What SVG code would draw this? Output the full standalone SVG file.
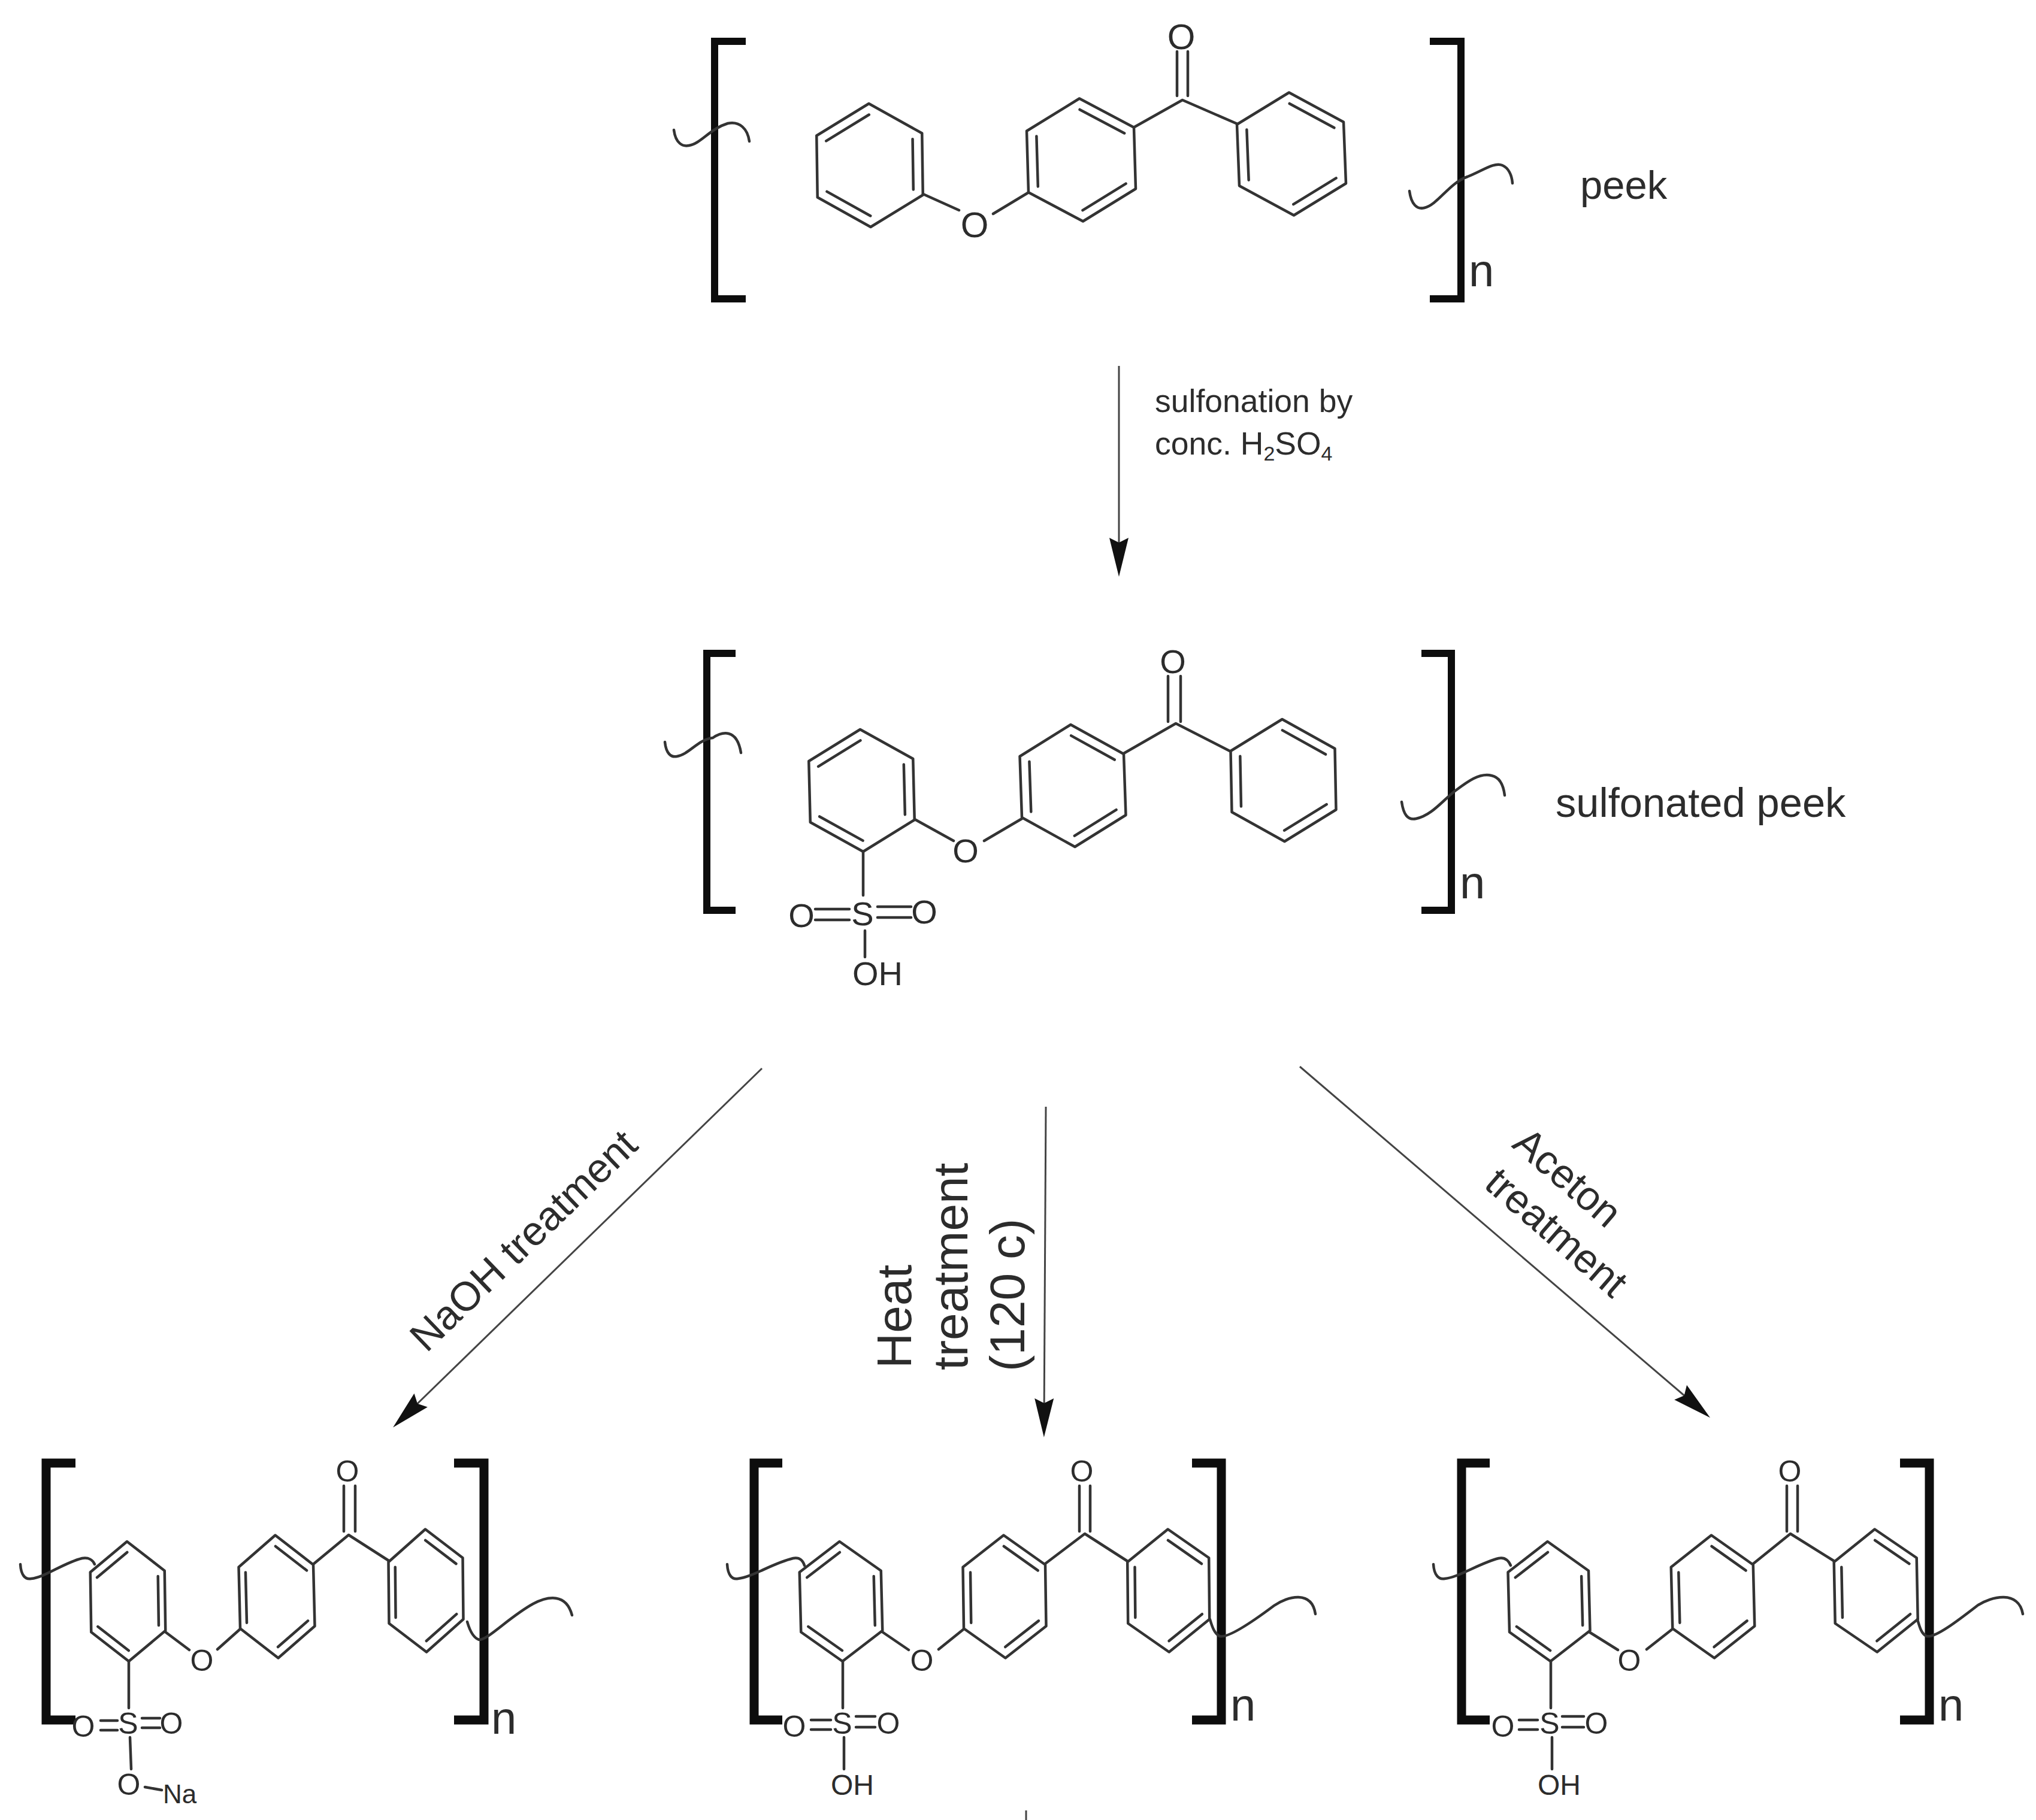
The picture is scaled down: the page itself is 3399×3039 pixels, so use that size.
<svg xmlns="http://www.w3.org/2000/svg" xmlns:xlink="http://www.w3.org/1999/xlink" width="3399" height="3039" viewBox="0 0 3399 3039">
<style>
text{font-family:"Liberation Sans",Arial,sans-serif;fill:#2c2c2c}
.b,.h,.q,.br,.c{fill:none;stroke-linecap:round}
.b,.h{stroke:#333;stroke-width:4.5;stroke-linejoin:round}
.h *{vector-effect:non-scaling-stroke}
.q{stroke:#333;stroke-width:4.5}
.br{stroke:#0d0d0d;stroke-width:12;stroke-linecap:butt;stroke-linejoin:miter}
.br2{stroke-width:15}
.c{stroke:#444;stroke-width:3;stroke-linecap:butt}
.f60{font-size:60px;text-anchor:middle}
.f56{font-size:56px;text-anchor:middle}
.f50{font-size:50px;text-anchor:middle}
.s56{font-size:56px}
.s48{font-size:48px}
.n{font-size:76px}
.l{font-size:67px}
.l2{font-size:68.6px}
.r{font-size:53.5px}
.t{font-size:68px}
.v{font-size:82px}
.sub{font-size:34px}
</style>
<defs>
<marker id="ah" viewBox="0 -20 70 40" refX="40" refY="0" markerWidth="70" markerHeight="40" markerUnits="userSpaceOnUse" orient="auto"><path d="M0,-16 L65,0 L0,16 L8,0 Z" fill="#111"/></marker>
<g id="ringA" class="h"><polygon points="0,-1 1,-.5 1,.5 0,1 -1,.5 -1,-.5"/><path d="M-.82,-.41 L0,-.82 M.82,-.41 L.82,.41 M-.82,.41 L0,.82"/></g>
<g id="ringB" class="h"><polygon points="0,-1 1,-.5 1,.5 0,1 -1,.5 -1,-.5"/><path d="M0,-.82 L.82,-.41 M-.82,-.41 L-.82,.41 M.82,.41 L0,.82"/></g>
</defs>
<rect width="3399" height="3039" fill="#fff"/>

<g id="peek">
<path class="br" d="M1245,69 H1193 V499 H1245"/>
<path class="br" d="M2387,69 H2439 V499 H2387"/>
<use href="#ringA" transform="matrix(88 -2 1.5 103 1452 276)"/>
<use href="#ringB" transform="matrix(89.5 -3 3 102.5 1805 267)"/>
<use href="#ringB" transform="matrix(89 -2 4 102.5 2156 257)"/>
<path class="b" d="M1541,324 L1601,351 M1658,357 L1716,322 M1894,212 L1974,167 L2066,207 M1965,86 V160 M1983,86 V160"/>
<path class="q" d="M1125,217 C1128,240 1140,245 1150,243 C1170,240 1185,215 1215,206 C1235,202 1248,215 1251,236"/>
<path class="q" d="M2353,319 C2356,342 2366,350 2378,347 C2400,342 2420,305 2450,295 C2475,285 2495,270 2508,276 C2518,280 2524,292 2525,306"/>
<text class="f60" x="1627" y="396">O</text>
<text class="f60" x="1972" y="82">O</text>
<text class="n" x="2452" y="478">n</text>
<text class="l" x="2638" y="332">peek</text>
</g>

<g id="sulfonated-peek">
<path class="br" d="M1228,1091 H1180 V1520 H1228"/>
<path class="br" d="M2373,1091 H2423 V1520 H2373"/>
<use href="#ringA" transform="matrix(87 -2 2.5 102 1438.5 1320)"/>
<use href="#ringB" transform="matrix(86.75 -2 3.5 102 1791 1312)"/>
<use href="#ringB" transform="matrix(87 -2 2 102 2142.5 1303)"/>
<path class="b" d="M1527,1368 L1592,1404 M1643,1404 L1706,1367 M1876,1258 L1963,1208 L2053,1254 M1950,1129 V1205 M1971,1129 V1205 M1441,1422 V1495 M1444,1554 V1598 M1361,1518 H1418 M1361,1536 H1418 M1465,1514 H1521 M1465,1532 H1521"/>
<path class="q" d="M1110,1239 C1112,1258 1120,1265 1130,1263 C1150,1260 1165,1235 1190,1232 C1205,1222 1230,1215 1237,1257"/>
<path class="q" d="M2340,1339 C2343,1360 2350,1370 2364,1367 C2390,1362 2410,1335 2430,1320 C2450,1305 2470,1290 2490,1295 C2505,1298 2510,1312 2512,1328"/>
<text class="f56" x="1612" y="1440">O</text>
<text class="f56" x="1958" y="1124">O</text>
<text class="f56" x="1440" y="1545">S</text>
<text class="f56" x="1338" y="1548">O</text>
<text class="f56" x="1543" y="1542">O</text>
<text class="s56" x="1423" y="1645">OH</text>
<text class="n" x="2437" y="1500">n</text>
<text class="l2" x="2597" y="1364">sulfonated peek</text>
</g>

<g id="sodium-salt">
<path class="br br2" d="M126,2443 H77 V2872 H126"/>
<path class="br br2" d="M758,2443 H808 V2872 H758"/>
<use href="#ringA" transform="matrix(62 -1.25 1.5 100 213.5 2674)"/>
<use href="#ringB" transform="matrix(62.25 -2 2.5 102.5 462 2666)"/>
<use href="#ringB" transform="matrix(62 -3.5 1 102.5 711 2656)"/>
<path class="b" d="M276,2725 L316,2755 M363,2754 L400,2721 M524,2611 L582,2563 L649,2606 M574,2481 V2557 M593,2481 V2557 M215,2774 V2852 M217,2901 L219,2954 M242,2984 L270,2989 M168,2873 H196 M168,2889 H196 M237,2869 H267 M237,2885 H267"/>
<path class="q" d="M34,2612 C35,2630 42,2638 52,2636 C75,2634 105,2610 137,2602 C148,2600 155,2605 158,2612"/>
<path class="q" d="M780,2708 C784,2722 790,2735 800,2738 C815,2738 850,2700 890,2678 C915,2665 945,2660 955,2697"/>
<text class="f50" x="337" y="2790">O</text>
<text class="f50" x="580" y="2474">O</text>
<text class="f50" x="214" y="2895">S</text>
<text class="f50" x="139" y="2900">O</text>
<text class="f50" x="286" y="2895">O</text>
<text class="f50" x="215" y="2997">O</text>
<text x="272" y="3011" style="font-size:44px">Na</text>
<text class="n" x="820" y="2895">n</text>
</g>

<g id="heat-product">
<path class="br br2" d="M1306,2443 H1259 V2872 H1306"/>
<path class="br br2" d="M1990,2443 H2039 V2872 H1990"/>
<use href="#ringA" transform="matrix(68 -1.25 2.5 100 1404 2674)"/>
<use href="#ringB" transform="matrix(68.75 -2 1.5 102.5 1677 2666)"/>
<use href="#ringB" transform="matrix(68 -3.5 1 102.5 1950.7 2656)"/>
<path class="b" d="M1473,2725 L1517,2755 M1567,2754 L1608,2721 M1745,2611 L1811,2561 L1881,2606 M1802,2481 V2557 M1820,2481 V2557 M1407,2774 V2852 M1409,2901 V2954 M1354,2872 H1387 M1354,2888 H1387 M1429,2866 H1461 M1429,2884 H1461"/>
<path class="q" d="M1214,2612 C1215,2630 1222,2638 1232,2636 C1255,2634 1290,2610 1324,2602 C1335,2600 1340,2605 1343,2614"/>
<path class="q" d="M2020,2704 C2024,2718 2028,2728 2036,2732 C2050,2736 2095,2705 2127,2681 C2150,2665 2190,2655 2196,2695"/>
<text class="f50" x="1539" y="2790">O</text>
<text class="f50" x="1806" y="2474">O</text>
<text class="f50" x="1406" y="2895">S</text>
<text class="f50" x="1326" y="2900">O</text>
<text class="f50" x="1483" y="2895">O</text>
<text class="s48" x="1387" y="2997">OH</text>
<text class="n" x="2054" y="2873">n</text>
<path class="c" d="M1713,3023 V3039"/>
</g>

<g id="aceton-product">
<path class="br br2" d="M2487,2443 H2440 V2872 H2487"/>
<path class="br br2" d="M3172,2443 H3221 V2872 H3172"/>
<use href="#ringA" transform="matrix(67.25 -1.25 2.5 100 2586 2674)"/>
<use href="#ringB" transform="matrix(68.5 -2 2.5 102.5 2859.5 2666)"/>
<use href="#ringB" transform="matrix(69 -3.5 2 102.5 3131.7 2656)"/>
<path class="b" d="M2653,2725 L2701,2755 M2749,2754 L2791,2721 M2927,2611 L2989,2561 L3061,2606 M2983,2481 V2557 M3001,2481 V2557 M2589,2774 V2852 M2591,2901 V2954 M2536,2872 H2567 M2536,2888 H2567 M2608,2866 H2644 M2608,2884 H2644"/>
<path class="q" d="M2393,2612 C2394,2630 2402,2638 2412,2636 C2435,2634 2470,2610 2502,2602 C2512,2600 2518,2605 2522,2614"/>
<path class="q" d="M3201,2704 C3205,2718 3208,2728 3216,2732 C3230,2736 3270,2705 3301,2681 C3325,2665 3370,2655 3377,2695"/>
<text class="f50" x="2720" y="2790">O</text>
<text class="f50" x="2988" y="2474">O</text>
<text class="f50" x="2587" y="2895">S</text>
<text class="f50" x="2509" y="2900">O</text>
<text class="f50" x="2665" y="2895">O</text>
<text class="s48" x="2567" y="2997">OH</text>
<text class="n" x="3236" y="2873">n</text>
</g>

<g id="connectors">
<line class="c" x1="1868" y1="611" x2="1868" y2="938" marker-end="url(#ah)"/>
<line class="c" x1="1272" y1="1784" x2="674" y2="2366" marker-end="url(#ah)"/>
<line class="c" x1="1746" y1="1848" x2="1743" y2="2375" marker-end="url(#ah)"/>
<line class="c" x1="2170" y1="1781" x2="2836" y2="2351" marker-end="url(#ah)"/>
</g>

<g id="labels">
<text class="r" x="1928" y="688">sulfonation by</text>
<text class="r" x="1928" y="759">conc. H<tspan class="sub" dy="10">2</tspan><tspan dy="-10">SO</tspan><tspan class="sub" dy="10">4</tspan></text>
<text class="t" transform="translate(712 2260) rotate(-44)">NaOH treatment</text>
<text class="v" transform="translate(1521 2285) rotate(-90)">Heat</text>
<text class="v" transform="translate(1615 2288) rotate(-90)">treatment</text>
<text class="v" transform="translate(1710 2290) rotate(-90)">(120 c)</text>
<text class="t" transform="translate(2522 1914) rotate(41)">Aceton</text>
<text class="t" transform="translate(2475 1981) rotate(41)">treatment</text>
</g>
</svg>
